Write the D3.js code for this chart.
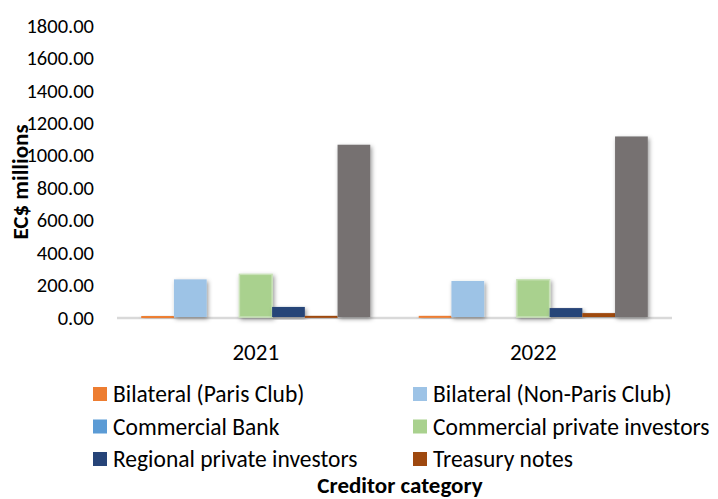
<!DOCTYPE html>
<html>
<head>
<meta charset="utf-8">
<script src="https://cdn.jsdelivr.net/npm/d3@7"></script>
<style>
  body { margin: 0; background: #fff; }
  text { font-family: Carlito, Lato, "Open Sans", sans-serif; fill: #000; }
</style>
</head>
<body>
<div id="chart"></div>
<script>
const width = 718, height = 499;

// data
const years = ["2021", "2022"];
const series = ["Bilateral (Paris Club)", "Bilateral (Non-Paris Club)", "Commercial Bank",
  "Commercial private investors", "Regional private investors", "Treasury notes", "Multilateral"];
const colors = ["#ED7D31", "#9DC3E6", "#5B9BD5", "#A9D18E", "#264478", "#9E480E", "#767171"];
const values2021 = [6, 232, 0, 263, 62, 7, 1062];
const values2022 = [7, 222, 0, 230, 55, 24, 1113];
const yTicks = [0, 200, 400, 600, 800, 1000, 1200, 1400, 1600, 1800];
const legendItems = series.slice(0, 6);

const margin = {left: 117, right: 46, top: 25, bottom: 182};

let svg = d3.select("#chart")
  .append("svg")
  .attr("width", width)
  .attr("height", height);

let defs = svg.append("defs");
let shadow = defs.append("filter").attr("id", "shadow")
  .attr("x", "-30%").attr("y", "-10%").attr("width", "160%").attr("height", "130%");
shadow.append("feDropShadow")
  .attr("dx", 1.5).attr("dy", 2).attr("stdDeviation", 2.2)
  .attr("flood-color", "#000").attr("flood-opacity", 0.4);

let x0 = d3.scaleBand()
  .domain(years)
  .range([margin.left, width - margin.right]);

let x1 = d3.scaleBand()
  .domain(series)
  .range([0, x0.bandwidth()])
  .paddingOuter(0.74);

let y = d3.scaleLinear()
  .domain([0, 1800])
  .range([height - margin.bottom, margin.top]);

// y axis labels only, no line
let yAxis = svg.append("g")
  .attr("transform", `translate(${margin.left - 20},0)`)
  .call(d3.axisLeft(y).tickValues(yTicks).tickSize(0).tickFormat(d3.format(".2f")));
yAxis.select(".domain").remove();
yAxis.selectAll("text")
  .attr("font-size", 20.5)
  .attr("dy", "0.35em")
  .style("font-family", "Carlito, Lato, sans-serif")
  .attr("fill", "#000");

// baseline
svg.append("line")
  .attr("x1", margin.left).attr("x2", width - margin.right)
  .attr("y1", y(0) + 1).attr("y2", y(0) + 1)
  .attr("stroke", "#d9d9d9").attr("stroke-width", 2.5);

let rows = years.map((yr, i) => ({year: yr, values: i === 0 ? values2021 : values2022}));

let groups = svg.append("g").selectAll("g")
  .data(rows)
  .join("g")
  .attr("transform", (d) => `translate(${x0(d.year)},0)`);

groups.selectAll("rect")
  .data((d) => d.values.map((v, i) => ({name: series[i], value: v, color: colors[i]})).filter((b) => b.value > 0))
  .join("rect")
  .attr("x", (d) => x1(d.name))
  .attr("width", x1.bandwidth())
  .attr("y", (d) => y(d.value))
  .attr("height", (d) => Math.max(2, y(0) - y(d.value)))
  .attr("fill", (d) => d.color)
  .attr("stroke", (d) => d.name === "Commercial private investors" ? "#c9e2b8" : "none")
  .attr("stroke-width", 1.5)
  .attr("filter", "url(#shadow)");

// x axis labels
svg.append("g").selectAll("text")
  .data(years)
  .join("text")
  .attr("x", (d) => x0(d) + x0.bandwidth() / 2)
  .attr("y", 360)
  .attr("text-anchor", "middle")
  .attr("font-size", 23)
  .text((d) => d);

// y title
svg.append("text")
  .attr("transform", "translate(28,182) rotate(-90)")
  .attr("text-anchor", "middle")
  .attr("font-size", 23)
  .attr("font-weight", "bold")
  .text("EC$ millions");

// legend
let legend = svg.append("g").selectAll("g")
  .data(legendItems)
  .join("g")
  .attr("transform", (d, i) => `translate(${i % 2 === 0 ? 93 : 413},${394 + Math.floor(i / 2) * 32.5})`);

legend.append("rect")
  .attr("x", 0).attr("y", -7)
  .attr("width", 14).attr("height", 14)
  .attr("fill", (d, i) => colors[i]);

legend.append("text")
  .attr("x", 20)
  .attr("dy", "0.35em")
  .attr("font-size", 23.5)
  .text((d) => d);

// x title
svg.append("text")
  .attr("x", 400)
  .attr("y", 493)
  .attr("text-anchor", "middle")
  .attr("font-size", 23)
  .attr("font-weight", "bold")
  .text("Creditor category");
</script>
</body>
</html>
